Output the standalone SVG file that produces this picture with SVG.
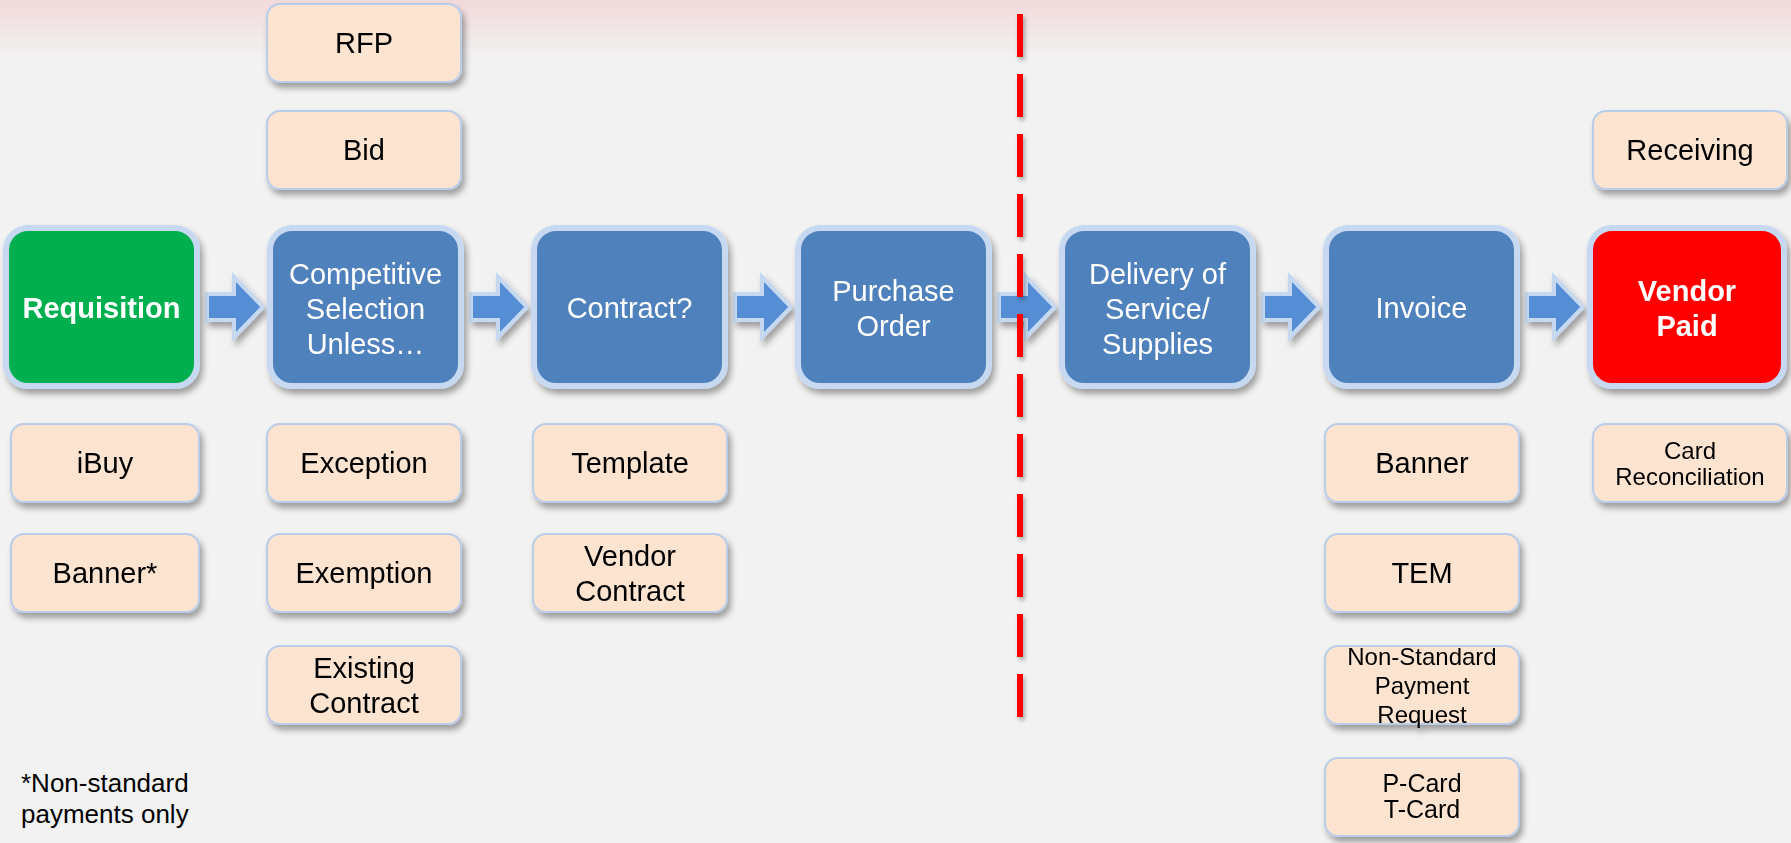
<svg xmlns="http://www.w3.org/2000/svg" width="1791" height="843" viewBox="0 0 1791 843">
<defs>
<linearGradient id="bgTop" x1="0" y1="0" x2="0" y2="1">
<stop offset="0" stop-color="#F2DADB"/>
<stop offset="1" stop-color="#F2F2F2"/>
</linearGradient>
<filter id="sh" x="-20%" y="-20%" width="140%" height="150%">
<feDropShadow dx="3" dy="5" stdDeviation="3" flood-color="#000" flood-opacity="0.35"/>
</filter>
<filter id="shs" filterUnits="userSpaceOnUse" x="990" y="0" width="60" height="760">
<feDropShadow dx="2" dy="3" stdDeviation="2" flood-color="#000" flood-opacity="0.3"/>
</filter>
<style>
.main{stroke:#C6D9F1;stroke-width:6}
.blue{fill:#4F81BD}
.sub{fill:#FDE4D0;stroke:#B9CDE8;stroke-width:2}
.wt{font-family:"Liberation Sans",Arial,sans-serif;font-size:29px;fill:#FFFFFF;text-anchor:middle}
.wb{font-weight:bold}
.bk{font-family:"Liberation Sans",Arial,sans-serif;font-size:29px;fill:#000000;text-anchor:middle}
.sm{font-size:24px}
.arr{fill:#558ED5;stroke:#C6D9F1;stroke-width:4;stroke-linejoin:miter}
.note{font-family:"Liberation Sans",Arial,sans-serif;font-size:26px;fill:#000000}
</style>
</defs>
<rect x="0" y="0" width="1791" height="843" fill="#F2F2F2"/>
<rect x="0" y="0" width="1791" height="60" fill="url(#bgTop)"/>

<g id="connectors" filter="url(#sh)">
<polygon class="arr" points="207,294 234,294 234,277 263,307 234,337 234,320 207,320"/>
<polygon class="arr" points="471,294 498,294 498,277 527,307 498,337 498,320 471,320"/>
<polygon class="arr" points="735,294 762,294 762,277 791,307 762,337 762,320 735,320"/>
<polygon class="arr" points="999,294 1026,294 1026,277 1055,307 1026,337 1026,320 999,320"/>
<polygon class="arr" points="1263,294 1290,294 1290,277 1319,307 1290,337 1290,320 1263,320"/>
<polygon class="arr" points="1527,294 1554,294 1554,277 1583,307 1554,337 1554,320 1527,320"/>
</g>

<g id="divider" filter="url(#shs)">
<line x1="1020" y1="14" x2="1020" y2="717" stroke="#FF0000" stroke-width="6" stroke-dasharray="43 17"/>
</g>

<g id="requisition" filter="url(#sh)">
<rect class="main" x="6" y="228" width="191" height="158" rx="22" fill="#00B050"/>
<text class="wt wb" x="101.5" y="318">Requisition</text>
</g>
<g id="competitive" filter="url(#sh)">
<rect class="main blue" x="270" y="228" width="191" height="158" rx="22"/>
<text class="wt" x="365.5" y="284">Competitive</text>
<text class="wt" x="365.5" y="319">Selection</text>
<text class="wt" x="365.5" y="354">Unless…</text>
</g>
<g id="contract" filter="url(#sh)">
<rect class="main blue" x="534" y="228" width="191" height="158" rx="22"/>
<text class="wt" x="629.5" y="318">Contract?</text>
</g>
<g id="purchase-order" filter="url(#sh)">
<rect class="main blue" x="798" y="228" width="191" height="158" rx="22"/>
<text class="wt" x="893.5" y="301">Purchase</text>
<text class="wt" x="893.5" y="336">Order</text>
</g>
<g id="delivery" filter="url(#sh)">
<rect class="main blue" x="1062" y="228" width="191" height="158" rx="22"/>
<text class="wt" x="1157.5" y="284">Delivery of</text>
<text class="wt" x="1157.5" y="319">Service/</text>
<text class="wt" x="1157.5" y="354">Supplies</text>
</g>
<g id="invoice" filter="url(#sh)">
<rect class="main blue" x="1326" y="228" width="191" height="158" rx="22"/>
<text class="wt" x="1421.5" y="318">Invoice</text>
</g>
<g id="vendor-paid" filter="url(#sh)">
<rect class="main" x="1590" y="228" width="194" height="158" rx="22" fill="#FF0000"/>
<text class="wt wb" x="1687" y="301">Vendor</text>
<text class="wt wb" x="1687" y="336">Paid</text>
</g>

<g id="rfp" filter="url(#sh)">
<rect class="sub" x="267" y="4" width="194" height="78" rx="13"/>
<text class="bk" x="364" y="53">RFP</text>
</g>
<g id="bid" filter="url(#sh)">
<rect class="sub" x="267" y="111" width="194" height="78" rx="13"/>
<text class="bk" x="364" y="160">Bid</text>
</g>
<g id="receiving" filter="url(#sh)">
<rect class="sub" x="1593" y="111" width="194" height="78" rx="13"/>
<text class="bk" x="1690" y="160">Receiving</text>
</g>
<g id="ibuy" filter="url(#sh)">
<rect class="sub" x="11" y="424" width="188" height="78" rx="13"/>
<text class="bk" x="105" y="473">iBuy</text>
</g>
<g id="banner-star" filter="url(#sh)">
<rect class="sub" x="11" y="534" width="188" height="78" rx="13"/>
<text class="bk" x="105" y="583">Banner*</text>
</g>
<g id="exception" filter="url(#sh)">
<rect class="sub" x="267" y="424" width="194" height="78" rx="13"/>
<text class="bk" x="364" y="473">Exception</text>
</g>
<g id="exemption" filter="url(#sh)">
<rect class="sub" x="267" y="534" width="194" height="78" rx="13"/>
<text class="bk" x="364" y="583">Exemption</text>
</g>
<g id="existing-contract" filter="url(#sh)">
<rect class="sub" x="267" y="646" width="194" height="78" rx="13"/>
<text class="bk" x="364" y="678">Existing</text>
<text class="bk" x="364" y="713">Contract</text>
</g>
<g id="template" filter="url(#sh)">
<rect class="sub" x="533" y="424" width="194" height="78" rx="13"/>
<text class="bk" x="630" y="473">Template</text>
</g>
<g id="vendor-contract" filter="url(#sh)">
<rect class="sub" x="533" y="534" width="194" height="78" rx="13"/>
<text class="bk" x="630" y="566">Vendor</text>
<text class="bk" x="630" y="601">Contract</text>
</g>
<g id="banner" filter="url(#sh)">
<rect class="sub" x="1325" y="424" width="194" height="78" rx="13"/>
<text class="bk" x="1422" y="473">Banner</text>
</g>
<g id="tem" filter="url(#sh)">
<rect class="sub" x="1325" y="534" width="194" height="78" rx="13"/>
<text class="bk" x="1422" y="583">TEM</text>
</g>
<g id="non-standard" filter="url(#sh)">
<rect class="sub" x="1325" y="646" width="194" height="78" rx="13"/>
<text class="bk sm" x="1422" y="665">Non-Standard</text>
<text class="bk sm" x="1422" y="694">Payment</text>
<text class="bk sm" x="1422" y="723">Request</text>
</g>
<g id="pcard" filter="url(#sh)">
<rect class="sub" x="1325" y="758" width="194" height="78" rx="13"/>
<text class="bk" x="1422" y="792" style="font-size:25px">P-Card</text>
<text class="bk" x="1422" y="818" style="font-size:25px">T-Card</text>
</g>
<g id="card-reconciliation" filter="url(#sh)">
<rect class="sub" x="1593" y="424" width="194" height="78" rx="13"/>
<text class="bk sm" x="1690" y="459">Card</text>
<text class="bk sm" x="1690" y="485">Reconciliation</text>
</g>

<g id="footnote">
<text class="note" x="21" y="792">*Non-standard</text>
<text class="note" x="21" y="823">payments only</text>
</g>
</svg>
